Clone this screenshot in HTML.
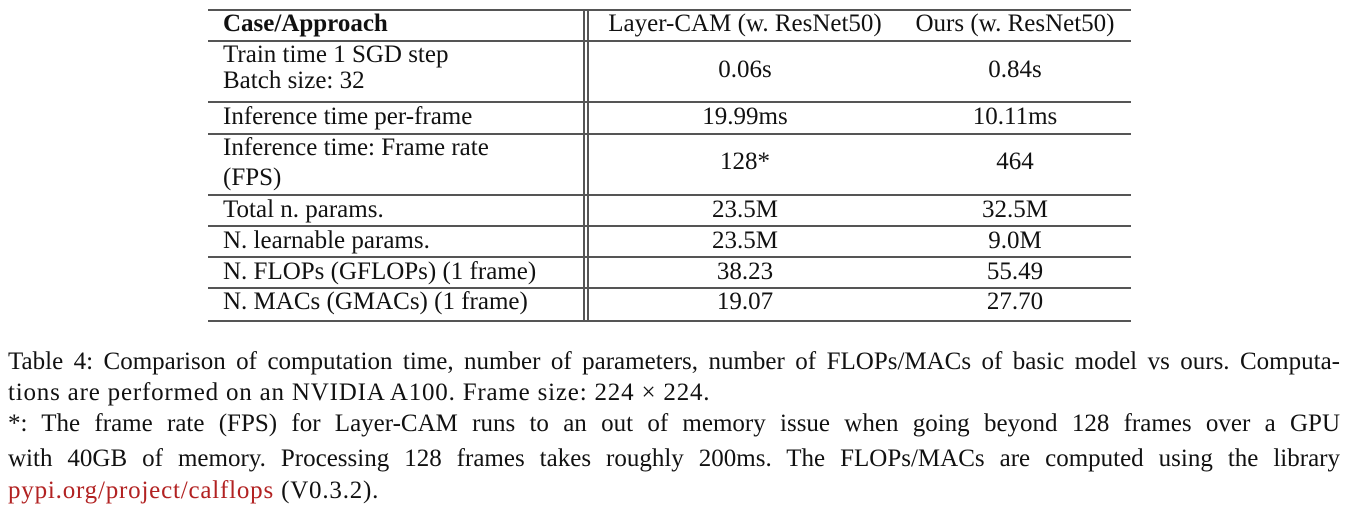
<!DOCTYPE html>
<html><head><meta charset="utf-8"><style>
body{margin:0;width:1349px;height:515px;background:#fff;position:relative;overflow:hidden;font-family:"Liberation Serif",serif;color:#111}
.h{position:absolute;height:2px;background:#555;left:208px;width:923px}
.v{position:absolute;width:1.5px;background:#555;top:10px;height:312px}
.t{position:absolute;font-size:25px;line-height:28px;white-space:nowrap;transform:translateY(-14px)}
.c2{left:745px;transform:translate(-50%,-14px)}
.c3{left:1015px;transform:translate(-50%,-14px)}
.l{left:223px}
.cap{position:absolute;left:8px;width:1332px;font-size:25px;line-height:28px;text-align:justify;text-align-last:justify;white-space:nowrap}
.nl{text-align:left;text-align-last:left;letter-spacing:0.8px}
</style></head><body>
<div class="h" style="top:9px"></div>
<div class="h" style="top:40px;height:1.5px"></div>
<div class="h" style="top:101px;height:1.5px"></div>
<div class="h" style="top:133px;height:1.5px"></div>
<div class="h" style="top:194px;height:1.5px"></div>
<div class="h" style="top:225px;height:1.5px"></div>
<div class="h" style="top:256px;height:1.5px"></div>
<div class="h" style="top:287px;height:1.5px"></div>
<div class="h" style="top:320px;height:1.5px"></div>
<div class="v" style="left:583px"></div>
<div class="v" style="left:587px"></div>

<div class="t l" style="top:24px;font-weight:bold">Case/Approach</div>
<div class="t c2" style="top:24px">Layer-CAM (w. ResNet50)</div>
<div class="t c3" style="top:24px">Ours (w. ResNet50)</div>

<div class="t l" style="top:55px">Train time 1 SGD step</div>
<div class="t l" style="top:81px">Batch size: 32</div>
<div class="t c2" style="top:70px">0.06s</div>
<div class="t c3" style="top:70px">0.84s</div>

<div class="t l" style="top:117px">Inference time per-frame</div>
<div class="t c2" style="top:117px">19.99ms</div>
<div class="t c3" style="top:117px">10.11ms</div>

<div class="t l" style="top:148px">Inference time: Frame rate</div>
<div class="t l" style="top:178px">(FPS)</div>
<div class="t c2" style="top:162px">128*</div>
<div class="t c3" style="top:162px">464</div>

<div class="t l" style="top:210px">Total n. params.</div>
<div class="t c2" style="top:210px">23.5M</div>
<div class="t c3" style="top:210px">32.5M</div>

<div class="t l" style="top:241px">N. learnable params.</div>
<div class="t c2" style="top:241px">23.5M</div>
<div class="t c3" style="top:241px">9.0M</div>

<div class="t l" style="top:272px">N. FLOPs (GFLOPs) (1 frame)</div>
<div class="t c2" style="top:272px">38.23</div>
<div class="t c3" style="top:272px">55.49</div>

<div class="t l" style="top:302px">N. MACs (GMACs) (1 frame)</div>
<div class="t c2" style="top:302px">19.07</div>
<div class="t c3" style="top:302px">27.70</div>

<div class="cap" style="top:348px">Table 4: Comparison of computation time, number of parameters, number of FLOPs/MACs of basic model vs ours. Computa-</div>
<div class="cap nl" style="top:379px">tions are performed on an NVIDIA A100. Frame size: 224 × 224.</div>
<div class="cap" style="top:410px">*: The frame rate (FPS) for Layer-CAM runs to an out of memory issue when going beyond 128 frames over a GPU</div>
<div class="cap" style="top:445px">with 40GB of memory. Processing 128 frames takes roughly 200ms. The FLOPs/MACs are computed using the library</div>
<div class="cap nl" style="top:477px"><span style="color:#b22222">pypi.org/project/calflops</span> (V0.3.2).</div>
</body></html>
